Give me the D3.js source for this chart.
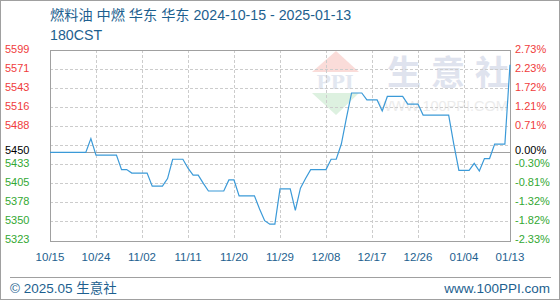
<!DOCTYPE html>
<html>
<head>
<meta charset="utf-8">
<script src="https://cdn.jsdelivr.net/npm/d3@7"></script>
<style>
  html, body { margin: 0; padding: 0; background: #fff; }
  svg { display: block; }
</style>
</head>
<body>
<script>
  // daily prices from 2024-10-15 to 2025-01-13
  const startDate = '2024-10-15';
  const prices = [
    5450, 5450, 5450, 5450, 5450, 5450, 5450, 5450, 5470, 5446,
    5446, 5446, 5446, 5446, 5425, 5425, 5420, 5420, 5420, 5420,
    5401, 5401, 5401, 5412, 5440, 5440, 5440, 5427, 5417, 5417,
    5405, 5394, 5394, 5394, 5394, 5410, 5410, 5387, 5387, 5387,
    5387, 5368, 5351, 5346, 5346, 5397, 5397, 5397, 5366, 5398,
    5412, 5425, 5425, 5425, 5425, 5440, 5440, 5462, 5500, 5536,
    5536, 5536, 5526, 5526, 5526, 5510, 5531, 5531, 5531, 5531,
    5520, 5520, 5520, 5504, 5504, 5504, 5504, 5504, 5504, 5462,
    5424, 5424, 5424, 5434, 5423, 5441, 5441, 5462, 5462, 5462,
    5577
  ];
  const basePrice = 5450;

  const xTickDates = ['2024-10-15', '2024-10-24', '2024-11-02', '2024-11-11', '2024-11-20',
    '2024-11-29', '2024-12-08', '2024-12-17', '2024-12-26', '2025-01-04', '2025-01-13'];
  const xTickLabels = ['10/15', '10/24', '11/02', '11/11', '11/20', '11/29', '12/08', '12/17', '12/26', '01/04', '01/13'];

  const yTicks = [5323, 5350.6, 5378.2, 5405.8, 5433.4, 5461, 5488.6, 5516.2, 5543.8, 5571.4, 5599];
  const yTickLabels = ['5323', '5350', '5378', '5405', '5433', '', '5488', '5516', '5543', '5571', '5599'];
  const pctLabels = ['-2.33%', '-1.82%', '-1.32%', '-0.81%', '-0.30%', '', '0.71%', '1.21%', '1.72%', '2.23%', '2.73%'];

  const titleText = '燃料油 中燃 华东 华东 2024-10-15 - 2025-01-13';
  const subTitle = '180CST';
  const watermarkChars = ['生', '意', '社'];

  const width = 560;
  const height = 300;
  const plot = { left: 50, right: 510, top: 49.5, bottom: 240 };

  const parseDate = d3.timeParse('%Y-%m-%d');
  const t0 = parseDate(startDate);
  const data = prices.map((v, i) => ({ date: d3.timeDay.offset(t0, i), value: v }));

  const RED = '#f03c3c';
  const GREEN = '#33a833';
  const BLUE_TEXT = '#1d5f8f';
  const FONT = '"Liberation Sans", Arial, sans-serif';
  const CJK = '"Liberation Sans", "Noto Sans CJK SC", sans-serif';

  const xScale = d3.scaleTime()
    .domain([parseDate(xTickDates[0]), parseDate(xTickDates[xTickDates.length - 1])])
    .range([plot.left, plot.right]);

  const yScale = d3.scaleLinear()
    .domain([yTicks[0], yTicks[yTicks.length - 1]])
    .range([plot.bottom, plot.top]);

  const svg = d3.select('body').append('svg')
    .attr('width', width)
    .attr('height', height);

  // outer frame
  svg.append('rect')
    .attr('x', 0.5).attr('y', 0.5)
    .attr('width', width - 1).attr('height', height - 1)
    .attr('fill', '#fff').attr('stroke', '#a0a0a0');

  // title
  svg.append('text')
    .attr('x', 50).attr('y', 20)
    .attr('font-family', CJK).attr('font-size', 14.2)
    .attr('fill', BLUE_TEXT)
    .text(titleText);
  svg.append('text')
    .attr('x', 50).attr('y', 39.5)
    .attr('font-family', CJK).attr('font-size', 14.2)
    .attr('fill', BLUE_TEXT)
    .text(subTitle);

  // watermark
  const wm = svg.append('g');
  wm.append('path')
    .attr('d', 'M336,51 L359,72 L312,72 Z')
    .attr('fill', '#fadcd9');
  wm.append('text')
    .attr('x', 335).attr('y', 89)
    .attr('text-anchor', 'middle')
    .attr('font-family', '"DejaVu Serif", serif').attr('font-weight', 'bold')
    .attr('font-size', 19).attr('fill', '#e2e7f0')
    .text('PPI');
  wm.append('path')
    .attr('d', 'M312,93 L359,93 L336,115 Z')
    .attr('fill', '#ddf1e0');
  wm.selectAll('text.wmc')
    .data(watermarkChars)
    .join('text')
    .attr('class', 'wmc')
    .attr('x', (d, i) => 404 + i * 44)
    .attr('y', 85)
    .attr('text-anchor', 'middle')
    .attr('font-family', '"Noto Sans CJK SC", sans-serif').attr('font-weight', 'bold')
    .attr('font-size', 34)
    .attr('fill', '#dfe3ee')
    .text((d) => d);
  wm.append('text')
    .attr('x', 443).attr('y', 111)
    .attr('text-anchor', 'middle')
    .attr('font-family', FONT)
    .attr('font-size', 14.5).attr('fill', '#ececec')
    .text('WWW.100PPI.COM');

  // grid
  const grid = svg.append('g')
    .attr('stroke', '#cccccc')
    .attr('stroke-dasharray', '3,2')
    .attr('shape-rendering', 'crispEdges');

  grid.selectAll('line.h')
    .data(yTicks.slice(1, -1))
    .join('line')
    .attr('class', 'h')
    .attr('x1', plot.left).attr('x2', plot.right)
    .attr('y1', (d) => Math.round(yScale(d)) + 0.5)
    .attr('y2', (d) => Math.round(yScale(d)) + 0.5);

  grid.selectAll('line.v')
    .data(xTickDates.slice(1, -1))
    .join('line')
    .attr('class', 'v')
    .attr('y1', plot.top).attr('y2', plot.bottom)
    .attr('x1', (d) => Math.round(xScale(parseDate(d))) + 0.5)
    .attr('x2', (d) => Math.round(xScale(parseDate(d))) + 0.5);

  // base line at 5450
  svg.append('line')
    .attr('x1', plot.left).attr('x2', plot.right)
    .attr('y1', Math.round(yScale(basePrice)) + 0.5)
    .attr('y2', Math.round(yScale(basePrice)) + 0.5)
    .attr('stroke', '#a0a0a0')
    .attr('shape-rendering', 'crispEdges');

  // plot border
  svg.append('rect')
    .attr('x', plot.left + 0.5).attr('y', Math.round(plot.top) + 0.5)
    .attr('width', plot.right - plot.left)
    .attr('height', Math.round(plot.bottom - plot.top))
    .attr('fill', 'none')
    .attr('stroke', '#a0a0a0')
    .attr('shape-rendering', 'crispEdges');

  // price line
  const line = d3.line()
    .x((d) => xScale(d.date))
    .y((d) => yScale(d.value));

  svg.append('path')
    .datum(data)
    .attr('d', line)
    .attr('fill', 'none')
    .attr('stroke', '#3b9ad8')
    .attr('stroke-width', 1.2);

  // left axis labels
  const yColor = (v) => (v > basePrice ? RED : v < basePrice ? GREEN : '#000');

  svg.append('g').selectAll('text')
    .data(yTicks)
    .join('text')
    .attr('x', 5)
    .attr('y', (d) => yScale(d) + 3)
    .attr('font-family', FONT).attr('font-size', 11)
    .attr('fill', (d) => yColor(d))
    .text((d, i) => yTickLabels[i]);

  svg.append('text')
    .attr('x', 5)
    .attr('y', yScale(basePrice) + 2)
    .attr('font-family', FONT).attr('font-size', 11)
    .attr('fill', '#000')
    .text(String(basePrice));

  // right axis labels
  svg.append('g').selectAll('text')
    .data(yTicks)
    .join('text')
    .attr('x', 515)
    .attr('y', (d) => yScale(d) + 3)
    .attr('font-family', FONT).attr('font-size', 11)
    .attr('fill', (d) => yColor(d))
    .text((d, i) => pctLabels[i]);

  svg.append('text')
    .attr('x', 515)
    .attr('y', yScale(basePrice) + 2)
    .attr('font-family', FONT).attr('font-size', 11)
    .attr('fill', '#000')
    .text('0.00%');

  // x axis labels
  svg.append('g').selectAll('text')
    .data(xTickDates)
    .join('text')
    .attr('x', (d) => xScale(parseDate(d)))
    .attr('y', 261)
    .attr('text-anchor', 'middle')
    .attr('font-family', FONT).attr('font-size', 11.5)
    .attr('fill', BLUE_TEXT)
    .text((d, i) => xTickLabels[i]);

  // footer
  svg.append('line')
    .attr('x1', 10).attr('x2', 551)
    .attr('y1', 277.5).attr('y2', 277.5)
    .attr('stroke', '#a0a0a0');

  svg.append('text')
    .attr('x', 10).attr('y', 293)
    .attr('font-family', CJK).attr('font-size', 13.5)
    .attr('fill', BLUE_TEXT)
    .text('© 2025.05 生意社');

  svg.append('text')
    .attr('x', 550).attr('y', 293)
    .attr('text-anchor', 'end')
    .attr('font-family', FONT).attr('font-size', 13.5)
    .attr('fill', BLUE_TEXT)
    .text('www.100PPI.com');
</script>
</body>
</html>
